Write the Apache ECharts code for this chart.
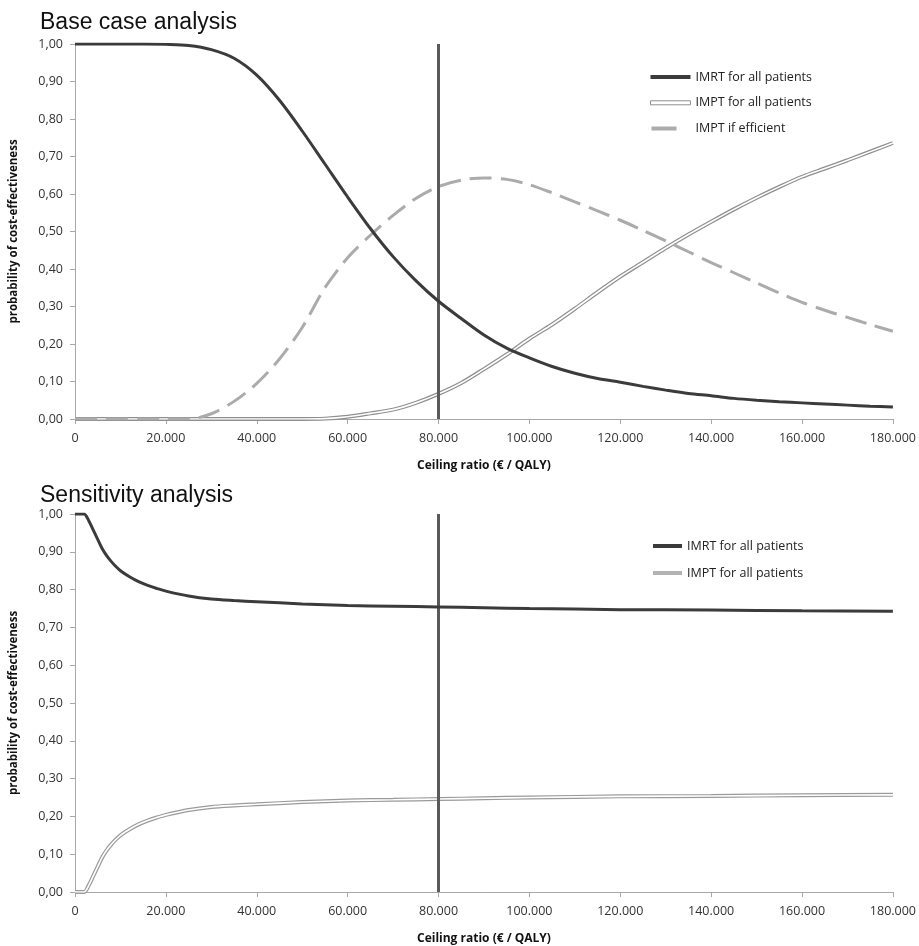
<!DOCTYPE html>
<html>
<head>
<meta charset="utf-8">
<title>Cost-effectiveness acceptability curves</title>
<script src="https://cdn.jsdelivr.net/npm/echarts@6/dist/echarts.min.js"></script>
<style>
  html, body { margin: 0; padding: 0; background: #fff; }
  #chart { width: 919px; height: 946px; }
</style>
</head>
<body>
<div id="chart"></div>
<script>
// ceiling ratio (EUR / QALY) for the base case curves
var ceilingTop = [0, 5000, 10000, 15000, 20000, 25000, 30000, 35000, 40000, 45000,
  50000, 55000, 60000, 65000, 70000, 75000, 80000, 85000, 90000, 95000,
  100000, 105000, 110000, 115000, 120000, 125000, 130000, 135000, 140000, 145000,
  150000, 155000, 160000, 165000, 170000, 175000, 180000];
var imrtTop = [1.000, 1.000, 1.000, 1.000, 0.999, 0.996, 0.985, 0.962, 0.917, 0.850,
  0.768, 0.680, 0.592, 0.508, 0.433, 0.369, 0.314, 0.268, 0.224, 0.189,
  0.163, 0.140, 0.122, 0.108, 0.098, 0.087, 0.077, 0.068, 0.062, 0.055,
  0.050, 0.046, 0.043, 0.040, 0.037, 0.034, 0.032];
var imptTop = [0, 0, 0, 0, 0, 0, 0, 0, 0, 0,
  0, 0.001, 0.006, 0.015, 0.025, 0.043, 0.067, 0.096, 0.133, 0.172,
  0.214, 0.252, 0.294, 0.338, 0.380, 0.418, 0.456, 0.492, 0.526, 0.559,
  0.590, 0.619, 0.646, 0.668, 0.690, 0.713, 0.736];
var efficientTop = [0, 0, 0, 0, 0, 0, 0.014, 0.047, 0.095, 0.160,
  0.244, 0.350, 0.430, 0.490, 0.543, 0.588, 0.620, 0.637, 0.643, 0.639,
  0.625, 0.603, 0.579, 0.555, 0.530, 0.503, 0.475, 0.446, 0.417, 0.390,
  0.363, 0.336, 0.311, 0.290, 0.271, 0.252, 0.234];

// sensitivity analysis curves
var ceilingBottom = [0, 1000, 2000, 3000, 4000, 5000, 6000, 7000, 8000, 9000,
  10000, 12000, 14000, 16000, 18000, 20000, 25000, 30000, 35000, 40000,
  50000, 60000, 70000, 80000, 90000, 100000, 120000, 140000, 160000, 180000];
var imrtBottom = [1.000, 1.000, 1.000, 0.983, 0.958, 0.933, 0.908, 0.889, 0.874, 0.861,
  0.850, 0.834, 0.821, 0.811, 0.803, 0.796, 0.783, 0.775, 0.771, 0.768,
  0.762, 0.758, 0.756, 0.754, 0.752, 0.750, 0.747, 0.746, 0.744, 0.743];
var imptBottom = [0, 0, 0, 0.017, 0.042, 0.067, 0.092, 0.111, 0.126, 0.139,
  0.150, 0.166, 0.179, 0.189, 0.197, 0.204, 0.217, 0.225, 0.229, 0.232,
  0.238, 0.242, 0.244, 0.246, 0.248, 0.250, 0.253, 0.254, 0.256, 0.257];

var wtp = 80000; // willingness-to-pay threshold

var titles = ['Base case analysis', 'Sensitivity analysis'];
var legendTop = ['IMRT for all patients', 'IMPT for all patients', 'IMPT if efficient'];
var legendBottom = ['IMRT for all patients', 'IMPT for all patients'];

function pairs(xs, ys) {
  return xs.map(function (x, i) { return [x, ys[i]]; });
}

function thousands(v) {
  return String(v).replace(/\B(?=(\d{3})+(?!\d))/g, '.');
}

var labelFont = { fontFamily: 'Open Sans', fontSize: 12.5, color: '#333' };
var nameFont = { fontFamily: 'Open Sans', fontSize: 12, fontWeight: 'bold', color: '#111' };

function xAxisFor(gridIndex) {
  return {
    gridIndex: gridIndex,
    type: 'value',
    min: 0,
    max: 180000,
    interval: 20000,
    name: 'Ceiling ratio (€ / QALY)',
    nameLocation: 'middle',
    nameGap: 41,
    nameTextStyle: nameFont,
    axisLine: { show: true, lineStyle: { color: '#a8a8a8', width: 1 } },
    axisTick: { show: true, length: 5, lineStyle: { color: '#a8a8a8' } },
    axisLabel: Object.assign({ margin: 13, formatter: thousands }, labelFont),
    splitLine: { show: false }
  };
}

function yAxisFor(gridIndex) {
  return {
    gridIndex: gridIndex,
    type: 'value',
    min: 0,
    max: 1,
    interval: 0.1,
    name: 'probability of cost-effectiveness',
    nameLocation: 'middle',
    nameGap: 55,
    nameTextStyle: Object.assign({}, nameFont, { fontSize: 11.5 }),
    axisLine: { show: true, lineStyle: { color: '#a8a8a8', width: 1 } },
    axisTick: { show: true, length: 5, lineStyle: { color: '#a8a8a8' } },
    axisLabel: Object.assign({
      margin: 12,
      formatter: function (v) { return v.toFixed(2).replace('.', ','); }
    }, labelFont),
    splitLine: { show: false }
  };
}

function curve(name, idx, xs, ys, style, z) {
  return {
    name: name,
    type: 'line',
    xAxisIndex: idx,
    yAxisIndex: idx,
    data: pairs(xs, ys),
    showSymbol: false,
    symbol: 'none',
    smooth: 0.3,
    lineStyle: style,
    z: z,
    silent: true
  };
}

function thresholdLine() {
  return {
    silent: true,
    symbol: 'none',
    label: { show: false },
    lineStyle: { color: '#5a5a5a', width: 3, type: 'solid' },
    data: [{ xAxis: wtp }]
  };
}

var myChart = echarts.init(document.getElementById('chart'), null, { renderer: 'canvas' });

var imrtA = curve(legendTop[0], 0, ceilingTop, imrtTop, { color: '#3b3b3b', width: 3 }, 5);
imrtA.markLine = thresholdLine();
var imrtB = curve(legendBottom[0], 1, ceilingBottom, imrtBottom, { color: '#3b3b3b', width: 3 }, 5);
imrtB.markLine = thresholdLine();

var option = {
  animation: false,
  backgroundColor: '#fff',
  title: [
    { text: titles[0], left: 35, top: 6,
      textStyle: { fontFamily: 'Liberation Sans', fontSize: 23, fontWeight: 'normal', color: '#111' } },
    { text: titles[1], left: 35, top: 479,
      textStyle: { fontFamily: 'Liberation Sans', fontSize: 23, fontWeight: 'normal', color: '#111' } }
  ],
  grid: [
    { left: 74, right: 24, top: 44, height: 375 },
    { left: 74, right: 24, top: 514, height: 378 }
  ],
  legend: [
    {
      orient: 'vertical',
      left: 650,
      top: 69,
      padding: 0,
      itemWidth: 40,
      itemHeight: 4,
      itemGap: 9.8,
      selectedMode: false,
      textStyle: { fontFamily: 'Open Sans', fontSize: 12.5, color: '#222', lineHeight: 16 },
      data: [
        { name: legendTop[0], icon: 'rect', itemStyle: { color: '#3b3b3b', borderWidth: 0 } },
        { name: legendTop[1], icon: 'rect', itemStyle: { color: '#fff', borderColor: '#8f8f8f', borderWidth: 1 } },
        { name: legendTop[2], icon: 'path://M2 0H27V4H2Z M40 0V4', itemStyle: { color: '#ababab', borderWidth: 0 } }
      ]
    },
    {
      orient: 'vertical',
      left: 653,
      top: 538,
      padding: 0,
      itemWidth: 29,
      itemHeight: 4,
      itemGap: 11,
      selectedMode: false,
      textStyle: { fontFamily: 'Open Sans', fontSize: 12.5, color: '#222', lineHeight: 16 },
      data: [
        { name: legendBottom[0], icon: 'rect', itemStyle: { color: '#3b3b3b', borderWidth: 0 } },
        { name: legendBottom[1], icon: 'rect', itemStyle: { color: '#b3b3b3', borderWidth: 0 } }
      ]
    }
  ],
  xAxis: [xAxisFor(0), xAxisFor(1)],
  yAxis: [yAxisFor(0), yAxisFor(1)],
  series: [
    // double line = grey outer stroke with a white core
    curve(legendTop[1], 0, ceilingTop, imptTop, { color: '#8f8f8f', width: 4 }, 2),
    curve(legendTop[1], 0, ceilingTop, imptTop, { color: '#fff', width: 1.6 }, 3),
    curve(legendTop[2], 0, ceilingTop, efficientTop, { color: '#ababab', width: 3, type: [22, 9] }, 4),
    imrtA,
    curve(legendBottom[1], 1, ceilingBottom, imptBottom, { color: '#9a9a9a', width: 4 }, 2),
    curve(legendBottom[1], 1, ceilingBottom, imptBottom, { color: '#fff', width: 1.6 }, 3),
    imrtB
  ]
};

myChart.setOption(option);
</script>
</body>
</html>
